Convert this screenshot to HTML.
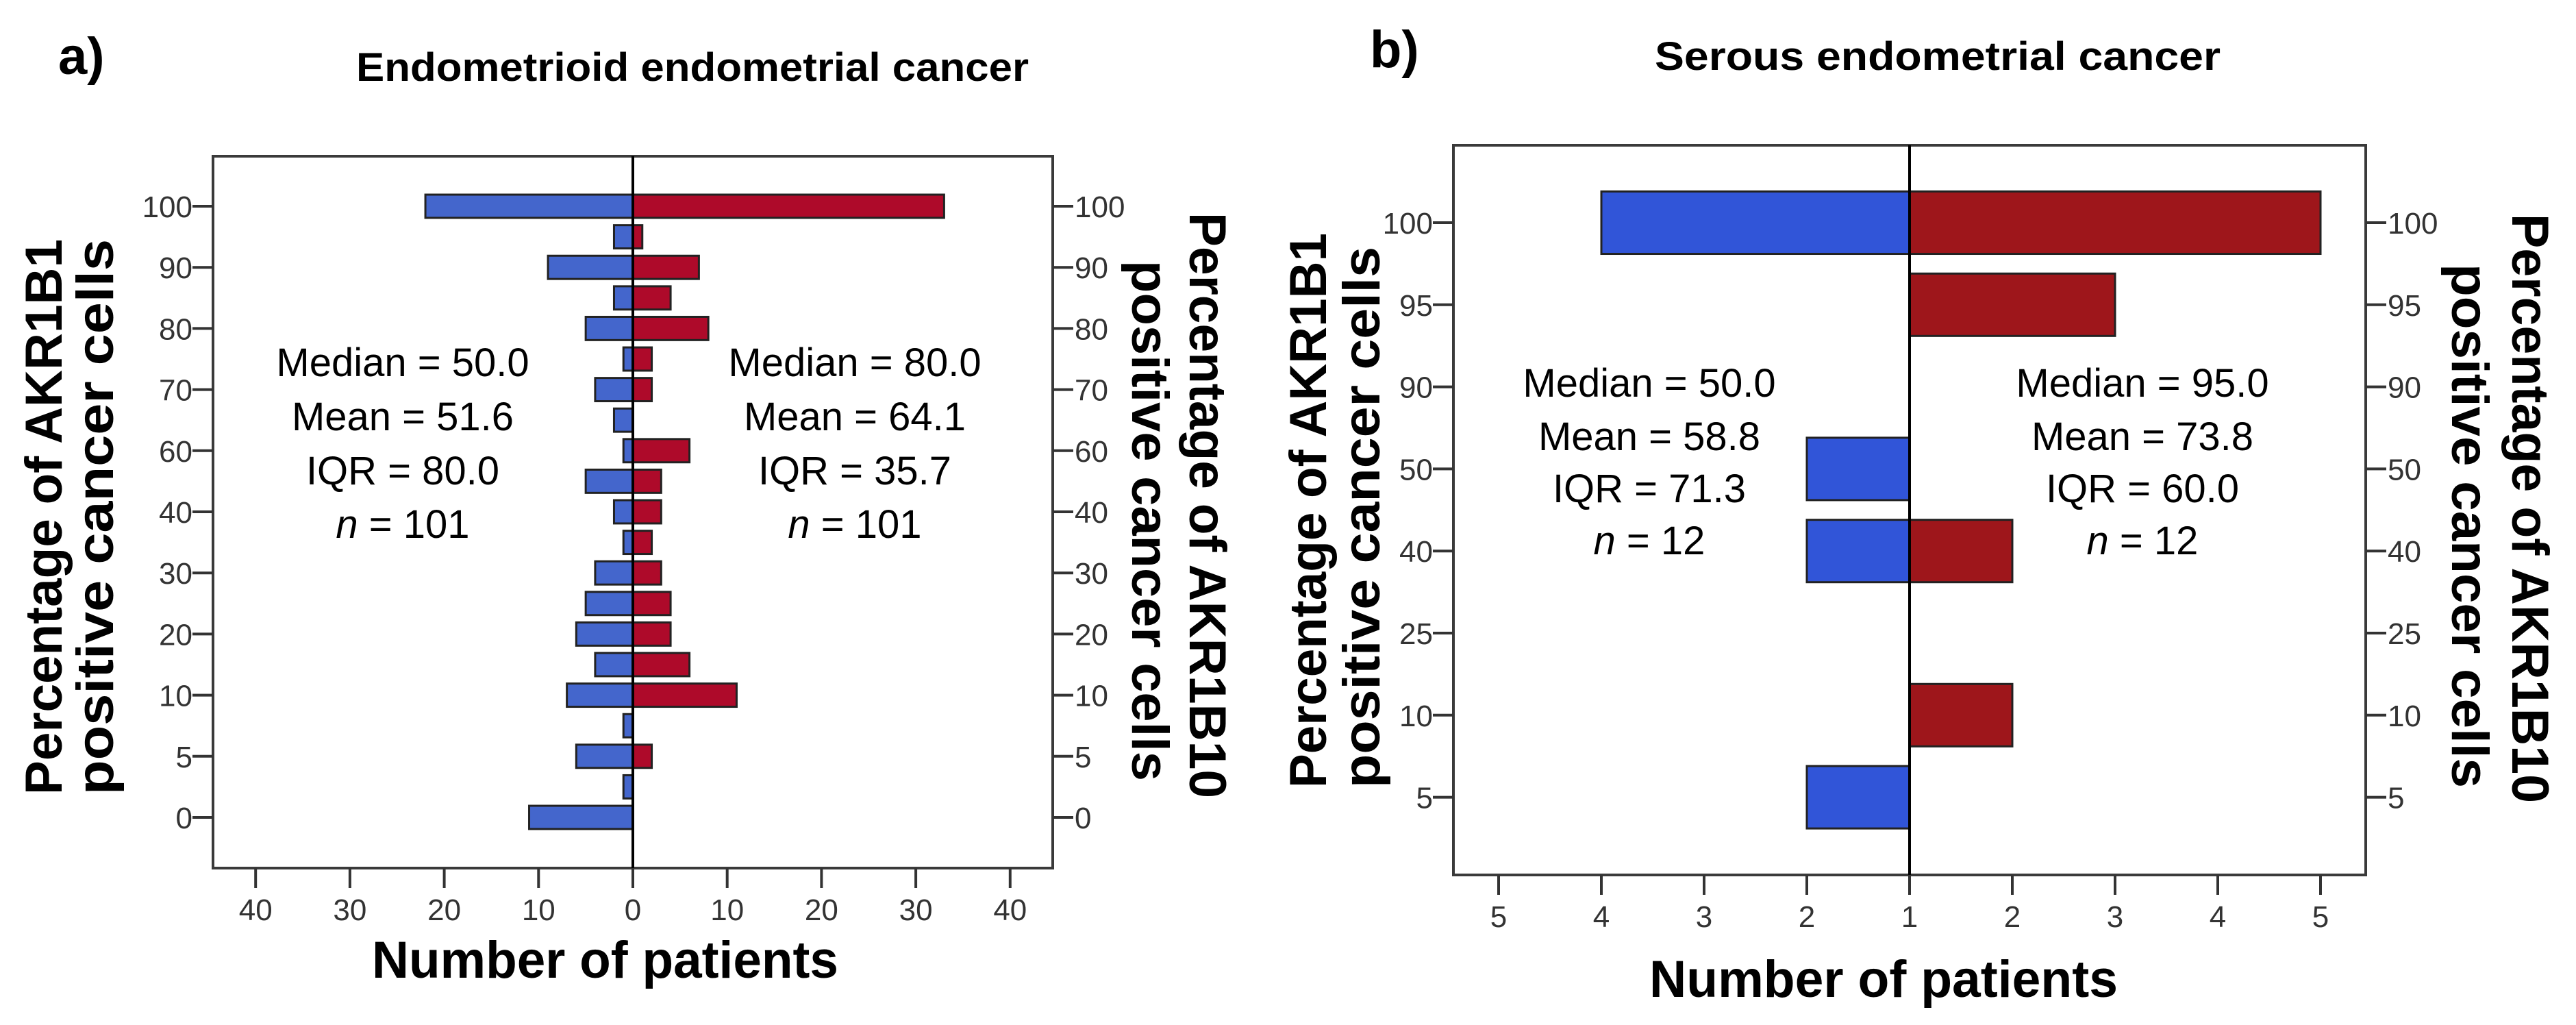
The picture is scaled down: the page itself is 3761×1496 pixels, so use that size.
<!DOCTYPE html>
<html><head><meta charset="utf-8"><style>
html,body{margin:0;padding:0;background:#fff;}
svg{display:block;}
text{font-family:"Liberation Sans",sans-serif;fill:#000;}
.tick{font-size:44px;fill:#333;}
.stat{font-size:58px;}
.ttl{font-size:58px;font-weight:bold;}
.ax{font-size:76px;font-weight:bold;}
</style></head><body>
<svg id="fig" width="3761" height="1496" viewBox="0 0 3761 1496" xmlns="http://www.w3.org/2000/svg">
<g id="pa"></g>
<g id="pb"></g>
</svg>
<script>
// Panel a data (slots from top to bottom)
const catsA = [100,95,90,85,80,75,70,65,60,50,40,35,30,25,20,15,10,7,5,2,0];
const labelsA = ['100','','90','','80','','70','','60','','40','','30','','20','','10','','5','','0'];
const leftA = [22,2,9,2,5,1,4,2,1,5,2,1,4,5,6,4,7,1,6,1,11];
const rightA = [33,1,7,4,8,2,2,0,6,3,3,2,3,4,4,6,11,0,2,0,0];
const xTicksA = [40,30,20,10,0,10,20,30,40];
// Panel b data
const catsB = [100,95,90,50,40,25,10,5];
const labelsB = ['100','95','90','50','40','25','10','5'];
const leftB = [4,1,1,2,2,1,1,2];
const rightB = [5,3,1,1,2,1,2,1];
const xTicksB = [5,4,3,2,1,2,3,4,5];

const NS='http://www.w3.org/2000/svg';
function mk(parent,tag,attrs,txt){const e=document.createElementNS(NS,tag);for(const k in attrs)e.setAttribute(k,attrs[k]);if(txt!==undefined)e.textContent=txt;parent.appendChild(e);return e;}

function panel(g,cfg){
  const {L,R,T,B,C,y0,dy,unit,base,cats,labels,left,right,xt,blue,red,lineW}=cfg;
  const yPos=i=>y0+i*dy;
  const xL=v=>C-(v-base)*unit;
  const xR=v=>C+(v-base)*unit;
  const bh=dy*0.76;
  const box=mk(g,'rect',{x:L,y:T,width:R-L,height:B-T,fill:'#fff',stroke:'#3a3a3a','stroke-width':4});
  
  
  cats.forEach((c,i)=>{
    const y=yPos(i);
    if(left[i]>base){
      const r=mk(g,'rect',{x:xL(left[i]),y:y-bh/2,width:xL(base)-xL(left[i]),height:bh,fill:blue,stroke:'#222','stroke-width':lineW});
      
      
    }
    if(right[i]>base){
      const r=mk(g,'rect',{x:xR(base),y:y-bh/2,width:xR(right[i])-xR(base),height:bh,fill:red,stroke:'#222','stroke-width':lineW});
      
      
    }
    if(labels[i]!==''){
      mk(g,'line',{x1:L-30,x2:L,y1:y,y2:y,stroke:'#333','stroke-width':4});
      mk(g,'line',{x1:R,x2:R+30,y1:y,y2:y,stroke:'#333','stroke-width':4});
      const tl=mk(g,'text',{x:L-30,y:y+16,'text-anchor':'end',class:'tick'},labels[i]);
      
      
      const tr=mk(g,'text',{x:R+32,y:y+16,'text-anchor':'start',class:'tick'},labels[i]);
      
      
    }
  });
  mk(g,'line',{x1:C,x2:C,y1:T,y2:B,stroke:'#000','stroke-width':4});
  const mid=(xt.length-1)/2;
  xt.forEach((t,i)=>{
    const x=i<mid?xL(t):xR(t);
    mk(g,'line',{x1:x,x2:x,y1:B,y2:B+29,stroke:'#333','stroke-width':4});
    const tx=mk(g,'text',{x:x,y:B+76,'text-anchor':'middle',class:'tick','font-size':48},String(t));
    
    
  });
}

function txt(g,name,x,y,s,cls,extra){const t=mk(g,'text',Object.assign({x:x,y:y,class:cls},extra||{}),s);
  
  return t;}
function stats(g,name,cx,ys,lines){
  const t=mk(g,'g',{});
  
  
  lines.forEach((l,i)=>{
    const e=mk(t,'text',{x:cx,y:ys[i],'text-anchor':'middle',class:'stat'});
    if(l[0]==='n'){mk(e,'tspan',{'font-style':'italic'},'n');mk(e,'tspan',{},'  = '+l.slice(1));}
    else e.textContent=l;
  });
}

const pa=document.getElementById('pa');
panel(pa,{L:311,R:1537,T:228,B:1267,C:924,y0:301,dy:44.6,unit:13.77,base:0,cats:catsA,labels:labelsA,left:leftA,right:rightA,xt:xTicksA,blue:'#4466cc',red:'#ae0a2a',lineW:3});
txt(pa,'panel-label-a',85,108,'a)','ax',{'font-size':80});
txt(pa,'chart-title-a',520,118,'Endometrioid endometrial cancer','ttl',{textLength:982,lengthAdjust:'spacingAndGlyphs'});
stats(pa,'stats-left-a',588,[549,628,707,785],['Median = 50.0','Mean = 51.6','IQR = 80.0','n101']);
stats(pa,'stats-right-a',1248,[549,628,707,785],['Median = 80.0','Mean = 64.1','IQR = 35.7','n101']);
txt(pa,'x-axis-title-a',543,1427,'Number of patients','ax',{textLength:681,lengthAdjust:'spacingAndGlyphs'});
txt(pa,'y-axis-title-left-a',0,0,'Percentage of AKR1B1','ax',{transform:'translate(90,1160) rotate(-90)',textLength:811,lengthAdjust:'spacingAndGlyphs'});
txt(pa,'y-axis-title-left-a-2',0,0,'positive cancer cells','ax',{transform:'translate(165,1160) rotate(-90)',textLength:811,lengthAdjust:'spacingAndGlyphs'});
txt(pa,'y-axis-title-right-a',0,0,'Percentage of AKR1B10','ax',{transform:'translate(1737,310) rotate(90)',textLength:855,lengthAdjust:'spacingAndGlyphs'});
txt(pa,'y-axis-title-right-a-2',0,0,'positive cancer cells','ax',{transform:'translate(1653,380) rotate(90)',textLength:760,lengthAdjust:'spacingAndGlyphs'});

const pb=document.getElementById('pb');
panel(pb,{L:2122,R:3454,T:212,B:1277,C:2788,y0:325,dy:119.8,unit:150,base:1,cats:catsB,labels:labelsB,left:leftB,right:rightB,xt:xTicksB,blue:'#3155d8',red:'#9e161b',lineW:3});
txt(pb,'panel-label-b',2000,98,'b)','ax',{'font-size':80});
txt(pb,'chart-title-b',2416,102,'Serous endometrial cancer','ttl',{textLength:826,lengthAdjust:'spacingAndGlyphs'});
stats(pb,'stats-left-b',2408,[579,657,733,809],['Median = 50.0','Mean = 58.8','IQR = 71.3','n12']);
stats(pb,'stats-right-b',3128,[579,657,733,809],['Median = 95.0','Mean = 73.8','IQR = 60.0','n12']);
txt(pb,'x-axis-title-b',2408,1455,'Number of patients','ax',{textLength:684,lengthAdjust:'spacingAndGlyphs'});
txt(pb,'y-axis-title-left-b',0,0,'Percentage of AKR1B1','ax',{transform:'translate(1936,1150) rotate(-90)',textLength:810,lengthAdjust:'spacingAndGlyphs'});
txt(pb,'y-axis-title-left-b-2',0,0,'positive cancer cells','ax',{transform:'translate(2014,1150) rotate(-90)',textLength:790,lengthAdjust:'spacingAndGlyphs'});
txt(pb,'y-axis-title-right-b',0,0,'Percentage of AKR1B10','ax',{transform:'translate(3668,312) rotate(90)',textLength:860,lengthAdjust:'spacingAndGlyphs'});
txt(pb,'y-axis-title-right-b-2',0,0,'positive cancer cells','ax',{transform:'translate(3580,385) rotate(90)',textLength:765,lengthAdjust:'spacingAndGlyphs'});
</script>
</body></html>
